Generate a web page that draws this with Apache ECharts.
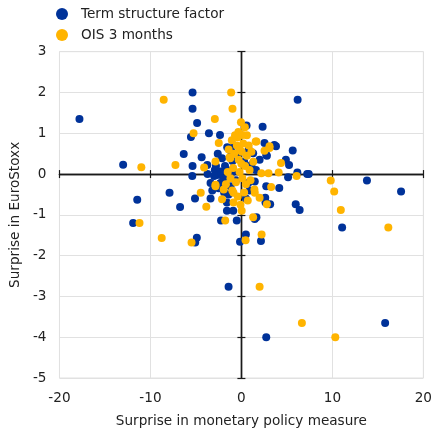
<!DOCTYPE html>
<html>
<head>
<meta charset="utf-8">
<script src="https://cdn.jsdelivr.net/npm/echarts@6/dist/echarts.min.js"></script>
<style>
  html, body { margin: 0; padding: 0; background: #fff; }
  #chart { width: 435px; height: 433px; }
</style>
</head>
<body>
<div id="chart"></div>
<script>
// Series names shown in the legend
const seriesNames = ['Term structure factor', 'OIS 3 months'];

// Axis settings
const xTicks = { min: -20, max: 20, interval: 10 };
const yTicks = { min: -5, max: 3, interval: 1 };
const xTitle = 'Surprise in monetary policy measure';
const yTitle = 'Surprise in EuroStoxx';

// [monetary policy surprise, EuroStoxx surprise] — term structure factor
const termStructure = [
  [-17.8, 1.35], [-13.0, 0.23], [-11.45, -0.63], [-11.9, -1.2], [-7.9, -0.46],
  [-6.74, -0.81], [-5.1, -0.6], [-4.9, -1.56], [-5.08, -1.68], [-1.41, -2.76],
  [2.73, -4.0], [15.8, -3.65], [-5.37, 2.0], [-5.37, 1.6], [-4.87, 1.25],
  [-5.55, 0.91], [-3.57, 1.0], [-2.35, 0.96], [-1.56, 0.66], [-6.34, 0.49],
  [-4.37, 0.41], [-5.37, 0.2], [-3.72, 0.0], [-5.4, -0.05], [-3.75, 0.22],
  [6.18, 1.82], [2.33, 1.16], [0.57, 1.19], [2.54, 0.76], [3.8, 0.68],
  [3.62, 0.71], [2.8, 0.45], [5.64, 0.58], [4.89, 0.35], [5.24, 0.22],
  [5.13, -0.08], [6.15, 0.04], [7.23, 0.0], [7.4, 0.0], [13.8, -0.16],
  [17.55, -0.43], [1.29, 0.51], [1.47, -0.18], [2.73, -0.3], [4.16, -0.34],
  [5.97, -0.74], [6.4, -0.88], [11.07, -1.31], [0.49, -1.48], [2.15, -1.64],
  [-2.24, -1.14], [-0.51, -1.14], [-1.59, -0.9], [3.16, -0.74], [2.62, -0.58],
  [1.47, -1.1], [-3.39, -0.6], [-2.92, 0.1], [-2.13, 0.39], [-0.98, 0.32],
  [-1.59, 0.1], [-2.31, 0.06], [-2.67, -0.02], [2.73, 0.47], [2.0, 0.35],
  [1.1, 0.22], [-1.59, -0.7], [-2.31, -0.22], [-3.39, -0.22], [-0.15, -1.66],
  [2.65, -0.7], [1.65, -1.06], [0.75, -0.22], [-2.0, -0.1], [-1.8, 0.2],
  [-1.2, -0.3], [-2.5, -0.35], [-1.0, 0.05], [-0.6, -0.15], [-1.4, -0.5],
  [-2.8, 0.2], [-0.4, 0.5], [0.3, 0.3], [0.8, 0.6], [-0.8, 0.7],
  [-3.2, -0.4], [-1.9, -0.45], [0.5, -0.6], [-0.9, -0.9], [0.9, -0.4],
  [1.6, 0.1], [-1.1, 0.55], [-2.6, 0.5], [-3.0, -0.05]
];

// [monetary policy surprise, EuroStoxx surprise] — OIS 3 months
const ois3m = [
  [-8.54, 1.82], [-1.13, 2.0], [-0.98, 1.6], [-2.92, 1.35], [-5.26, 1.0],
  [-2.49, 0.76], [-0.4, 0.9], [-2.85, 0.31], [-7.25, 0.22], [-11.0, 0.17],
  [-4.1, 0.16], [-4.47, -0.46], [-2.85, -0.26], [-1.3, 0.41], [-0.05, 1.27],
  [0.38, 1.15], [1.65, 0.8], [3.09, 0.68], [2.54, 0.57], [4.35, 0.27],
  [4.1, 0.04], [2.98, 0.02], [2.19, 0.02], [6.07, -0.05], [9.82, -0.16],
  [10.2, -0.43], [3.27, -0.32], [1.43, -0.38], [10.93, -0.88], [16.15, -1.31],
  [2.0, -2.76], [2.22, -1.48], [0.46, -1.62], [-1.78, -1.14], [1.29, -1.06],
  [2.8, -0.74], [-3.86, -0.8], [0.03, -0.9], [-11.2, -1.2], [-8.76, -1.57],
  [-5.48, -1.68], [-2.13, -0.62], [6.65, -3.65], [10.32, -4.0], [-1.05, 0.83],
  [-1.23, 0.39], [0.13, 0.96], [1.57, 0.8], [3.09, 0.64], [0.03, 0.55],
  [-0.33, 1.03], [-2.85, -0.3], [-1.95, -0.38], [-0.87, -0.7], [-0.87, -0.46],
  [2.0, -0.58], [1.47, -0.46], [-0.5, 0.7], [0.2, 0.75], [-0.8, 0.5],
  [0.6, 0.45], [-0.3, 0.35], [0.4, 0.2], [-0.9, 0.15], [0.9, 0.1],
  [-0.2, 0.05], [0.1, -0.1], [-0.6, -0.2], [0.5, -0.25], [-1.2, -0.1],
  [0.3, -0.45], [-0.4, -0.55], [0.7, -0.65], [-0.1, -0.75], [-1.5, 0.05],
  [1.3, 0.3], [-0.7, 0.95], [0.6, 0.95], [-1.4, 0.6], [1.0, -0.15],
  [-0.2, 0.6], [0.0, 0.25], [-1.0, -0.4], [1.1, 0.55], [-1.7, -0.25],
  [0.8, 0.7]
];

const BLUE = '#003299';
const YELLOW = '#FFB400';
const FONT = 'DejaVu Sans';
const FONT_SIZE = 13.6;
const TEXT = '#222222';
const GRIDLINE = '#e1e1e1';
const AXIS = '#1a1a1a';

// Tick labels with a plain hyphen for negatives
const plainNumber = v => String(v);

// Zero-crossing axis lines with ticks on both sides: two overlaid axes,
// one with inward ticks and one with outward ticks.
function zeroAxis(ticks, inside) {
  return {
    type: 'value', min: ticks.min, max: ticks.max, interval: ticks.interval,
    axisLine: { show: true, onZero: true, onZeroAxisIndex: 0, lineStyle: { color: AXIS, width: 1.4 } },
    axisTick: { show: true, inside: inside, length: 4, lineStyle: { color: AXIS, width: 1.2 } },
    axisLabel: { show: false }, splitLine: { show: false }
  };
}

const chart = echarts.init(document.getElementById('chart'), null, { renderer: 'canvas' });
chart.setOption({
  animation: false,
  backgroundColor: '#ffffff',
  textStyle: { fontFamily: FONT, color: TEXT },
  legend: {
    orient: 'vertical',
    left: 51, top: 2,
    itemWidth: 20, itemHeight: 12, itemGap: 7,
    icon: 'circle',
    textStyle: { fontFamily: FONT, fontSize: FONT_SIZE, color: TEXT, padding: [0, 0, 0, 4] },
    data: seriesNames
  },
  grid: {
    left: 54.5, right: 10, top: 51.7, bottom: 49.5,
    show: true, borderColor: GRIDLINE, borderWidth: 1, containLabel: false
  },
  xAxis: [
    {
      type: 'value', min: xTicks.min, max: xTicks.max, interval: xTicks.interval,
      position: 'bottom',
      axisLine: { show: false }, axisTick: { show: false },
      axisLabel: { fontFamily: FONT, fontSize: FONT_SIZE, color: TEXT, margin: 13, formatter: plainNumber },
      splitLine: { show: true, lineStyle: { color: GRIDLINE, width: 1 } },
      name: xTitle, nameLocation: 'middle', nameGap: 36,
      nameTextStyle: { fontFamily: FONT, fontSize: FONT_SIZE, color: TEXT }
    },
    zeroAxis(xTicks, true),
    zeroAxis(xTicks, false)
  ],
  yAxis: [
    {
      type: 'value', min: yTicks.min, max: yTicks.max, interval: yTicks.interval,
      position: 'left',
      axisLine: { show: false }, axisTick: { show: false },
      axisLabel: { fontFamily: FONT, fontSize: FONT_SIZE, color: TEXT, margin: 13, formatter: plainNumber },
      splitLine: { show: true, lineStyle: { color: GRIDLINE, width: 1 } },
      name: yTitle, nameLocation: 'middle', nameGap: 33, nameRotate: 90,
      nameTextStyle: { fontFamily: FONT, fontSize: FONT_SIZE, color: TEXT }
    },
    zeroAxis(yTicks, true),
    zeroAxis(yTicks, false)
  ],
  series: [
    {
      name: seriesNames[0], type: 'scatter', xAxisIndex: 0, yAxisIndex: 0,
      symbol: 'circle', symbolSize: 8,
      itemStyle: { color: BLUE, opacity: 1 },
      data: termStructure
    },
    {
      name: seriesNames[1], type: 'scatter', xAxisIndex: 0, yAxisIndex: 0,
      symbol: 'circle', symbolSize: 8,
      itemStyle: { color: YELLOW, opacity: 1 },
      data: ois3m
    }
  ]
});
</script>
</body>
</html>
